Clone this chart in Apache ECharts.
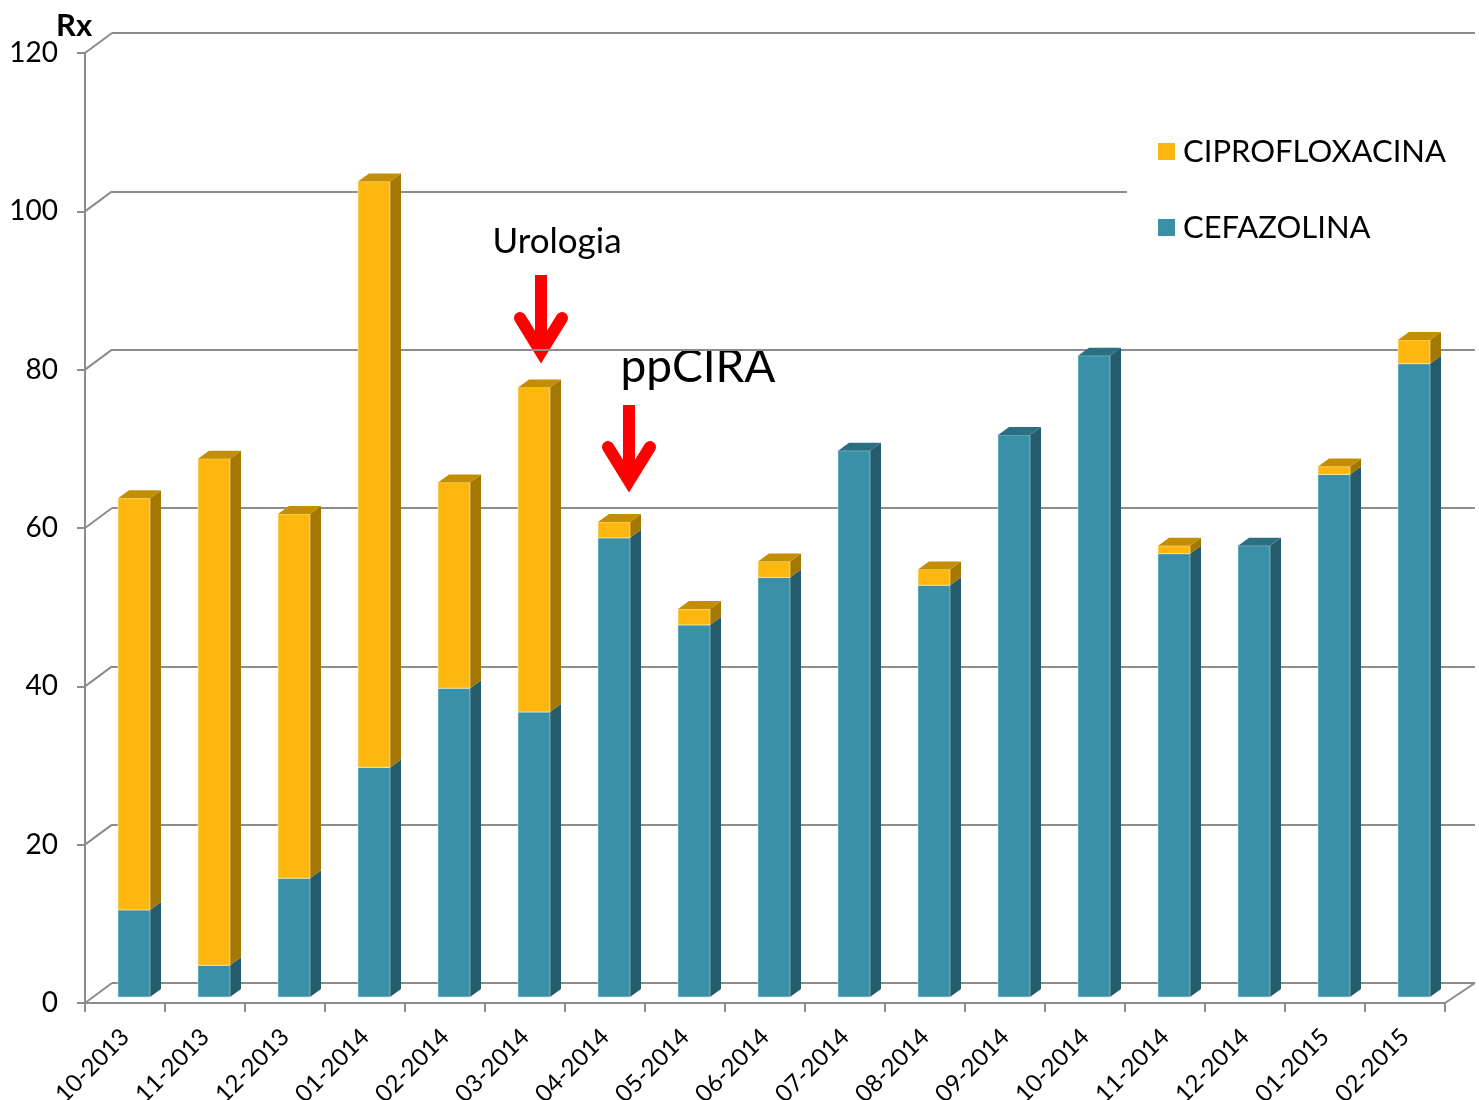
<!DOCTYPE html>
<html><head><meta charset="utf-8">
<script src="https://cdn.jsdelivr.net/npm/echarts@6/dist/echarts.min.js"></script>
<style>html,body{margin:0;padding:0;background:#fff}#c{width:1479px;height:1100px}</style>
</head><body><div id="c"></div>
<script>
// ---- data ----
const categories = ['10-2013','11-2013','12-2013','01-2014','02-2014','03-2014','04-2014','05-2014','06-2014','07-2014','08-2014','09-2014','10-2014','11-2014','12-2014','01-2015','02-2015'];
const cefazolina     = [11, 4, 15, 29, 39, 36, 58, 47, 53, 69, 52, 71, 81, 56, 57, 66, 80];
const ciprofloxacina = [52, 64, 46, 74, 26, 41,  2,  2,  2,  0,  2,  0,  0,  1,  0,  1,  3];
const yTicks = [0, 20, 40, 60, 80, 100, 120];
const seriesNames = ['CIPROFLOXACINA', 'CEFAZOLINA'];
const annotationTexts = ['Urologia', 'ppCIRA'];

// ---- style ----
const FONT = 'Lato';
const GRID_COLOR = '#8c8c8c';
const DEPTH_X = 11, DEPTH_Y = 8;
const CIPRO = {front:'#FDB70F', side:'#A57804', top:'#C38E04', edge:'rgba(255,240,200,0.6)'};
const CEFA  = {front:'#3A90A7', side:'#245C6B', top:'#2B6F82', edge:'rgba(200,240,250,0.5)'};

function box3d(api, i, lo, hi, colors, drawTop) {
  const p0 = api.coord([i, lo]);
  const p1 = api.coord([i, hi]);
  const w = api.size([1, 0])[0] * 0.4;
  const x0 = p0[0] - w / 2, x1 = p0[0] + w / 2;
  const yb = p0[1], yt = p1[1];
  const children = [
    {type:'polygon', shape:{points:[[x1,yb],[x1+DEPTH_X,yb-DEPTH_Y],[x1+DEPTH_X,yt-DEPTH_Y],[x1,yt]]}, style:{fill:colors.side}},
    {type:'rect', shape:{x:x0, y:yt, width:w, height:yb-yt}, style:{fill:colors.front, stroke:colors.edge, lineWidth:1}}
  ];
  if (drawTop) {
    children.push({type:'polygon', shape:{points:[[x0,yt],[x1,yt],[x1+DEPTH_X,yt-DEPTH_Y],[x0+DEPTH_X,yt-DEPTH_Y]]}, style:{fill:colors.top}});
  }
  return {type:'group', children};
}

const chart = echarts.init(document.getElementById('c'), null, {renderer:'canvas'});

const cefaData = categories.map((c, i) => [i, 0, cefazolina[i], ciprofloxacina[i]]);
const ciproData = categories.map((c, i) => [i, cefazolina[i], cefazolina[i] + ciprofloxacina[i], ciprofloxacina[i]]);

const option = {
  animation: false,
  backgroundColor: '#fff',
  title: {
    text: 'Rx', left: 51, top: 5,
    textStyle: {fontFamily: FONT, fontWeight: 'bold', fontSize: 31, color: '#000'}
  },
  legend: {
    data: seriesNames,
    orient: 'vertical',
    left: 1127, top: 126,
    padding: [10, 40, 10, 31],
    backgroundColor: '#fff',
    itemWidth: 17, itemHeight: 17,
    itemGap: 45,
    icon: 'rect',
    textStyle: {fontFamily: FONT, fontSize: 31, color: '#000', lineHeight: 31, padding: [0, 0, 0, 3]}
  },
  grid: [
    {left: 112, right: 4, top: 33, bottom: 117, outerBoundsMode: 'none', containLabel: false},   // back wall
    {left: 85, right: 34, top: 53, bottom: 97, outerBoundsMode: 'none', containLabel: false},    // front plane (axes)
    {left: 94, right: 25, top: 47, bottom: 103, outerBoundsMode: 'none', containLabel: false}    // bars plane
  ],
  xAxis: [
    {gridIndex: 0, type: 'category', data: categories, show: false},
    {gridIndex: 1, type: 'category', data: categories, boundaryGap: true,
     axisLine: {show: true, lineStyle: {color: GRID_COLOR, width: 2}},
     axisTick: {show: true, length: 9, lineStyle: {color: GRID_COLOR, width: 2}},
     axisLabel: {rotate: 45, margin: 30, interval: 0, fontFamily: FONT, fontSize: 24, color: '#000'}},
    {gridIndex: 2, type: 'category', data: categories, show: false}
  ],
  yAxis: [
    {gridIndex: 0, type: 'value', min: 0, max: 120, interval: 20,
     axisLine: {show: false}, axisTick: {show: false}, axisLabel: {show: false},
     splitLine: {show: true, lineStyle: {color: GRID_COLOR, width: 2}}},
    {gridIndex: 1, type: 'value', min: 0, max: 120, interval: 20,
     axisLine: {show: true, lineStyle: {color: GRID_COLOR, width: 2}},
     axisTick: {show: true, length: 8, lineStyle: {color: GRID_COLOR, width: 2}},
     axisLabel: {margin: 27, fontFamily: FONT, fontSize: 28, color: '#000'},
     splitLine: {show: false}},
    {gridIndex: 2, type: 'value', min: 0, max: 120, interval: 20, show: false, splitLine: {show: false}}
  ],
  series: [
    {
      name: 'walls', type: 'custom', xAxisIndex: 1, yAxisIndex: 1, silent: true,
      data: yTicks.map(v => [0, v]),
      encode: {x: 0, y: 1},
      renderItem: function (params, api) {
        const cs = params.coordSys;
        const v = api.value(1);
        const p = api.coord([0, v]);
        const ls = {stroke: GRID_COLOR, lineWidth: 2};
        const children = [{type: 'line', shape: {x1: cs.x, y1: p[1], x2: cs.x + 27, y2: p[1] - 20}, style: ls}];
        if (v === 0) {
          children.push({type: 'line', shape: {x1: cs.x + cs.width, y1: p[1], x2: cs.x + cs.width + 30, y2: p[1] - 20}, style: ls});
        }
        return {type: 'group', children};
      }
    },
    {
      name: 'CEFAZOLINA', type: 'custom', xAxisIndex: 2, yAxisIndex: 2,
      itemStyle: {color: CEFA.front},
      data: cefaData, encode: {x: 0, y: 2},
      renderItem: function (params, api) {
        return box3d(api, api.value(0), api.value(1), api.value(2), CEFA, api.value(3) === 0);
      }
    },
    {
      name: 'CIPROFLOXACINA', type: 'custom', xAxisIndex: 2, yAxisIndex: 2,
      itemStyle: {color: CIPRO.front},
      data: ciproData, encode: {x: 0, y: 2},
      renderItem: function (params, api) {
        if (api.value(3) === 0) return null;
        return box3d(api, api.value(0), api.value(1), api.value(2), CIPRO, true);
      }
    }
  ],
  graphic: [
    {type: 'text', x: 557, y: 242, style: {text: annotationTexts[0], fontFamily: FONT, fontSize: 35, fill: '#000', align: 'center', verticalAlign: 'middle'}},
    {type: 'polyline', shape: {points: [[541, 275], [541, 352]]}, style: {stroke: '#ff0000', lineWidth: 12, lineCap: 'butt'}},
    {type: 'polyline', shape: {points: [[520, 318], [541, 352], [562, 318]]}, style: {stroke: '#ff0000', fill: null, lineWidth: 12, lineCap: 'round', lineJoin: 'miter'}},
    {type: 'text', x: 698, y: 367, style: {text: annotationTexts[1], fontFamily: FONT, fontSize: 46, fill: '#000', align: 'center', verticalAlign: 'middle'}},
    {type: 'polyline', shape: {points: [[629, 405], [629, 481]]}, style: {stroke: '#ff0000', lineWidth: 12, lineCap: 'butt'}},
    {type: 'polyline', shape: {points: [[608, 447], [629, 481], [650, 447]]}, style: {stroke: '#ff0000', fill: null, lineWidth: 12, lineCap: 'round', lineJoin: 'miter'}}
  ]
};
chart.setOption(option);
</script>
</body></html>
